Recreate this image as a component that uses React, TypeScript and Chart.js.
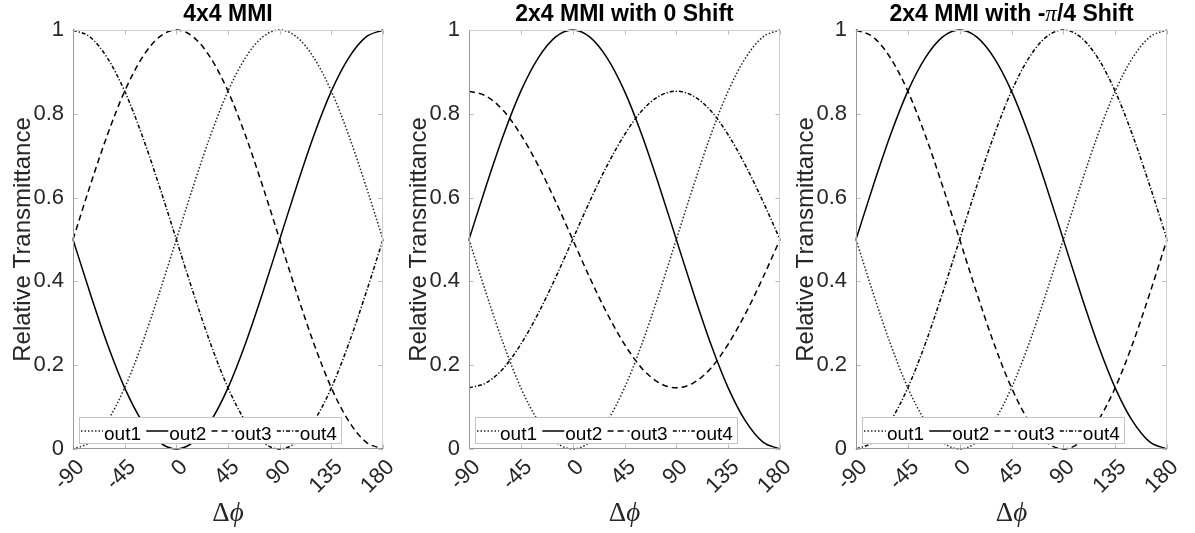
import React, { useEffect, useRef } from "react";
import { Chart, registerables } from "chart.js";

Chart.register(...registerables);

// ---------- data ----------
const phaseDeg = [-90, -75, -60, -45, -30, -15, 0, 15, 30, 45, 60, 75, 90, 105, 120, 135, 150, 165, 180];
const xTickValues = [-90, -45, 0, 45, 90, 135, 180];
const yTickValues = [0, 0.2, 0.4, 0.6, 0.8, 1];
const seriesNames = ["out1", "out2", "out3", "out4"];
const panelTitles = ["4x4 MMI", "2x4 MMI with 0 Shift", "2x4 MMI with -\u03c0/4 Shift"];
const yAxisTitle = "Relative Transmittance";
const xAxisTitleParts = ["\u0394", "\u03d5"];

// 4x4 MMI
const mmi4Out1 = [0, 0.017, 0.067, 0.146, 0.25, 0.371, 0.5, 0.629, 0.75, 0.854, 0.933, 0.983, 1, 0.983, 0.933, 0.854, 0.75, 0.629, 0.5];
const mmi4Out2 = [0.5, 0.371, 0.25, 0.146, 0.067, 0.017, 0, 0.017, 0.067, 0.146, 0.25, 0.371, 0.5, 0.629, 0.75, 0.854, 0.933, 0.983, 1];
const mmi4Out3 = [0.5, 0.629, 0.75, 0.854, 0.933, 0.983, 1, 0.983, 0.933, 0.854, 0.75, 0.629, 0.5, 0.371, 0.25, 0.146, 0.067, 0.017, 0];
const mmi4Out4 = [1, 0.983, 0.933, 0.854, 0.75, 0.629, 0.5, 0.371, 0.25, 0.146, 0.067, 0.017, 0, 0.017, 0.067, 0.146, 0.25, 0.371, 0.5];

// 2x4 MMI, 0 shift
const zeroOut1 = [0.5, 0.371, 0.25, 0.146, 0.067, 0.017, 0, 0.017, 0.067, 0.146, 0.25, 0.371, 0.5, 0.629, 0.75, 0.854, 0.933, 0.983, 1];
const zeroOut2 = [0.5, 0.629, 0.75, 0.854, 0.933, 0.983, 1, 0.983, 0.933, 0.854, 0.75, 0.629, 0.5, 0.371, 0.25, 0.146, 0.067, 0.017, 0];
const zeroOut3 = [0.854, 0.842, 0.807, 0.75, 0.677, 0.592, 0.5, 0.408, 0.323, 0.25, 0.193, 0.158, 0.146, 0.158, 0.193, 0.25, 0.323, 0.408, 0.5];
const zeroOut4 = [0.146, 0.158, 0.193, 0.25, 0.323, 0.408, 0.5, 0.592, 0.677, 0.75, 0.807, 0.842, 0.854, 0.842, 0.807, 0.75, 0.677, 0.592, 0.5];

// 2x4 MMI, -pi/4 shift
const piOut1 = [0.5, 0.371, 0.25, 0.146, 0.067, 0.017, 0, 0.017, 0.067, 0.146, 0.25, 0.371, 0.5, 0.629, 0.75, 0.854, 0.933, 0.983, 1];
const piOut2 = [0.5, 0.629, 0.75, 0.854, 0.933, 0.983, 1, 0.983, 0.933, 0.854, 0.75, 0.629, 0.5, 0.371, 0.25, 0.146, 0.067, 0.017, 0];
const piOut3 = [1, 0.983, 0.933, 0.854, 0.75, 0.629, 0.5, 0.371, 0.25, 0.146, 0.067, 0.017, 0, 0.017, 0.067, 0.146, 0.25, 0.371, 0.5];
const piOut4 = [0, 0.017, 0.067, 0.146, 0.25, 0.371, 0.5, 0.629, 0.75, 0.854, 0.933, 0.983, 1, 0.983, 0.933, 0.854, 0.75, 0.629, 0.5];

const panelSeries = [
  [mmi4Out1, mmi4Out2, mmi4Out3, mmi4Out4],
  [zeroOut1, zeroOut2, zeroOut3, zeroOut4],
  [piOut1, piOut2, piOut3, piOut4],
];

// ---------- styles / layout ----------
const SANS = "'Liberation Sans', Arial, Helvetica, sans-serif";
const SERIF = "'Liberation Serif', 'DejaVu Serif', serif";
const TEXT = "#262626";
const dashes = [[1.5, 2], [], [6, 4], [4, 2, 1.2, 2]];
const lineColors = ["#222", "#000", "#000", "#000"];
const H = 533;
const PLOT_TOP = 30;
const PLOT_BOTTOM = 449;
const Y_SCALE_W = 60;
const X_SCALE_H = 60;
const panelsLayout = [
  { offset: 0, width: 398, left: 73, right: 383 },
  { offset: 398, width: 398, left: 469, right: 780 },
  { offset: 796, width: 399, left: 856, right: 1167 },
];

function drawRuns(ctx: CanvasRenderingContext2D, text: string, cx: number, y: number, size: number) {
  const parts = text.split(/(\u03c0)/).filter((p) => p.length > 0);
  const fonts = parts.map((p) => (p === "\u03c0" ? `italic ${size}px ${SERIF}` : `bold ${size}px ${SANS}`));
  let total = 0;
  const widths = parts.map((p, i) => {
    ctx.font = fonts[i];
    const w = ctx.measureText(p).width;
    total += w;
    return w;
  });
  let x = cx - total / 2;
  ctx.textAlign = "left";
  ctx.textBaseline = "alphabetic";
  parts.forEach((p, i) => {
    ctx.font = fonts[i];
    ctx.fillText(p, x, y);
    x += widths[i];
  });
}

const decorPlugin = {
  id: "matlabDecor",
  afterDatasetsDraw(chart: any, _args: any, opts: any) {
    const ctx: CanvasRenderingContext2D = chart.ctx;
    const { left, right, top, bottom } = chart.chartArea;
    const xs = chart.scales.x;
    const ys = chart.scales.y;
    ctx.save();
    const L = Math.round(left) + 0.5;
    const R = Math.round(right) - 0.5;
    const T = Math.round(top) + 0.5;
    const B = Math.round(bottom) - 0.5;

    // ticks (inward, all four sides)
    ctx.lineWidth = 1;
    ctx.strokeStyle = "#b8b8b8";
    ctx.beginPath();
    xTickValues.forEach((v) => {
      const px = Math.round(xs.getPixelForValue(v)) + 0.5;
      ctx.moveTo(px, B);
      ctx.lineTo(px, B - 4);
      ctx.moveTo(px, T);
      ctx.lineTo(px, T + 4);
    });
    yTickValues.forEach((v) => {
      const py = Math.round(ys.getPixelForValue(v)) + 0.5;
      ctx.moveTo(L, py);
      ctx.lineTo(L + 4, py);
      ctx.moveTo(R, py);
      ctx.lineTo(R - 4, py);
    });
    ctx.stroke();

    // frame
    ctx.strokeStyle = "#cfcfcf";
    ctx.beginPath();
    ctx.moveTo(L, T);
    ctx.lineTo(R, T);
    ctx.lineTo(R, B);
    ctx.stroke();
    ctx.strokeStyle = "#9a9a9a";
    ctx.beginPath();
    ctx.moveTo(L, T);
    ctx.lineTo(L, B);
    ctx.lineTo(R, B);
    ctx.stroke();

    // legend
    const legFont = `19px ${SANS}`;
    ctx.font = legFont;
    const boxLeft = Math.round(left) + 6;
    const boxTop = Math.round(bottom) - 32;
    const lineLen = 22;
    let x = boxLeft + 2;
    const items = chart.data.datasets.map((ds: any) => {
      const w = ctx.measureText(ds.label).width;
      const item = { ds, x, w };
      x += lineLen + 1 + w + 5.3;
      return item;
    });
    const boxRight = x - 5.3 + 4;
    ctx.fillStyle = "#ffffff";
    ctx.fillRect(boxLeft, boxTop, boxRight - boxLeft, 26);
    ctx.strokeStyle = "#c4c4c4";
    ctx.lineWidth = 1;
    ctx.strokeRect(boxLeft + 0.5, boxTop + 0.5, Math.round(boxRight - boxLeft), 26);
    const lineY = boxTop + 14;
    const baseY = boxTop + 23;
    items.forEach((it: any) => {
      ctx.save();
      ctx.strokeStyle = it.ds.borderColor;
      ctx.lineWidth = it.ds.borderWidth;
      ctx.setLineDash(it.ds.borderDash || []);
      ctx.beginPath();
      ctx.moveTo(it.x, lineY);
      ctx.lineTo(it.x + lineLen, lineY);
      ctx.stroke();
      ctx.restore();
      ctx.fillStyle = "#000";
      ctx.font = legFont;
      ctx.textAlign = "left";
      ctx.textBaseline = "alphabetic";
      ctx.fillText(it.ds.label, it.x + lineLen + 1, baseY);
    });

    // x tick labels (rotated 45 deg)
    ctx.fillStyle = TEXT;
    ctx.font = `22px ${SANS}`;
    xTickValues.forEach((v) => {
      const px = xs.getPixelForValue(v);
      ctx.save();
      ctx.translate(px, bottom + 7);
      ctx.rotate(-Math.PI / 4);
      ctx.textAlign = "right";
      ctx.textBaseline = "top";
      ctx.fillText(String(v), 0, 0);
      ctx.restore();
    });

    // y axis title
    ctx.save();
    ctx.translate(left - 50, (top + bottom) / 2);
    ctx.rotate(-Math.PI / 2);
    ctx.font = `24px ${SANS}`;
    ctx.textAlign = "center";
    ctx.textBaseline = "middle";
    ctx.fillStyle = TEXT;
    ctx.fillText(yAxisTitle, 0, 0);
    ctx.restore();

    // x axis title  Δϕ
    const cx = (left + right) / 2;
    const fs = 27;
    ctx.font = `${fs}px ${SERIF}`;
    const w1 = ctx.measureText(xAxisTitleParts[0]).width;
    ctx.font = `italic ${fs}px ${SERIF}`;
    const w2 = ctx.measureText(xAxisTitleParts[1]).width;
    const sx = cx - (w1 + w2) / 2;
    ctx.fillStyle = TEXT;
    ctx.textAlign = "left";
    ctx.textBaseline = "alphabetic";
    ctx.font = `${fs}px ${SERIF}`;
    ctx.fillText(xAxisTitleParts[0], sx, 521);
    ctx.font = `italic ${fs}px ${SERIF}`;
    ctx.fillText(xAxisTitleParts[1], sx + w1, 521);

    // title
    ctx.fillStyle = "#000";
    drawRuns(ctx, opts.title, cx, 21, 23);

    ctx.restore();
  },
};

function Panel({ index }: { index: number }) {
  const ref = useRef<HTMLCanvasElement | null>(null);
  const lay = panelsLayout[index];
  useEffect(() => {
    if (!ref.current) return;
    const localLeft = lay.left - lay.offset;
    const localRight = lay.right - lay.offset;
    const chart = new Chart(ref.current, {
      type: "line",
      data: {
        datasets: panelSeries[index].map((vals, i) => ({
          label: seriesNames[i],
          data: phaseDeg.map((x, j) => ({ x, y: vals[j] })),
          borderColor: lineColors[i],
          borderWidth: 1.5,
          borderDash: dashes[i],
          pointRadius: 0,
          cubicInterpolationMode: "monotone",
          fill: false,
          clip: 2,
        })),
      },
      options: {
        animation: false,
        responsive: false,
        events: [],
        layout: {
          padding: {
            left: localLeft - Y_SCALE_W,
            right: lay.width - localRight,
            top: PLOT_TOP,
            bottom: H - PLOT_BOTTOM - X_SCALE_H,
          },
        },
        plugins: {
          legend: { display: false },
          title: { display: false },
          tooltip: { enabled: false },
          matlabDecor: { title: panelTitles[index] },
        } as any,
        scales: {
          x: {
            type: "linear",
            min: -90,
            max: 180,
            afterBuildTicks: (s: any) => {
              s.ticks = xTickValues.map((v) => ({ value: v }));
            },
            afterFit: (s: any) => {
              s.height = X_SCALE_H;
            },
            ticks: { display: false },
            grid: { display: false, drawTicks: false },
            border: { display: false },
          },
          y: {
            type: "linear",
            min: 0,
            max: 1,
            afterBuildTicks: (s: any) => {
              s.ticks = yTickValues.map((v) => ({ value: v }));
            },
            afterFit: (s: any) => {
              s.width = Y_SCALE_W;
            },
            ticks: {
              font: { family: SANS, size: 22 },
              color: TEXT,
              padding: 9,
              callback: (v: any) => String(v),
            },
            grid: { display: false, drawTicks: false },
            border: { display: false },
          },
        },
      } as any,
      plugins: [decorPlugin],
    });
    return () => chart.destroy();
  }, [index]);
  return (
    <canvas
      ref={ref}
      width={lay.width}
      height={H}
      style={{ position: "absolute", left: lay.offset, top: 0, width: lay.width, height: H, display: "block" }}
    />
  );
}

export default function App() {
  return (
    <div style={{ position: "absolute", left: 0, top: 0, width: 1195, height: H, background: "#fff", overflow: "hidden" }}>
      <Panel index={0} />
      <Panel index={1} />
      <Panel index={2} />
    </div>
  );
}
